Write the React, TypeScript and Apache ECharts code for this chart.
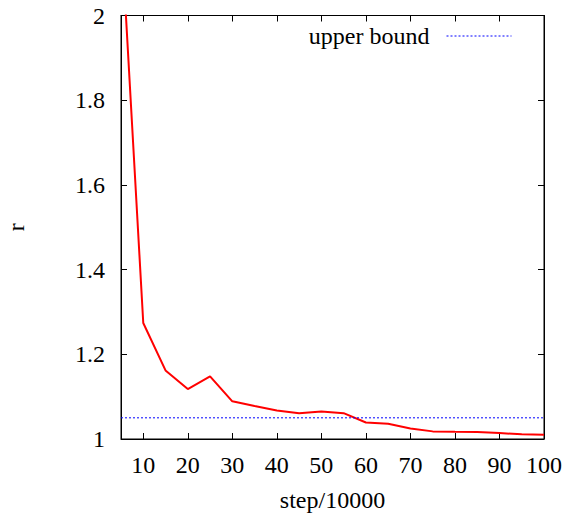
import React, { useEffect, useRef } from "react";
import * as echarts from "echarts";

const steps = [5, 10, 15, 20, 25, 30, 35, 40, 45, 50, 55, 60, 65, 70, 75, 80, 85, 90, 95, 100];
const rValues = [2.206, 1.274, 1.162, 1.118, 1.148, 1.089, 1.078, 1.0675, 1.061, 1.065, 1.061, 1.039, 1.036, 1.025, 1.018, 1.017, 1.0165, 1.014, 1.011, 1.01];
const upperBound = 1.05;
const xTicks = [10, 20, 30, 40, 50, 60, 70, 80, 90, 100];

const FONT = "'Times New Roman', 'Liberation Serif', serif";
const FS = 24;

export default function App() {
  const ref = useRef<HTMLDivElement>(null);
  useEffect(() => {
    if (!ref.current) return;
    const chart = echarts.init(ref.current, null, { renderer: "svg" });
    const axisLine = { show: true, lineStyle: { color: "#000", width: 1 } };
    chart.setOption({
      animation: false,
      backgroundColor: "#fff",
      textStyle: { fontFamily: FONT },
      grid: {
        left: 121,
        right: 27,
        top: 15.5,
        bottom: 75,
        containLabel: false,
        outerBoundsMode: "none",
        show: true,
        borderColor: "#000",
        borderWidth: 1,
        backgroundColor: "transparent",
      },
      legend: {
        data: ["upper bound"],
        right: 54,
        top: 19,
        align: "right",
        itemWidth: 65,
        itemHeight: 4,
        itemGap: 10,
        itemStyle: { color: "transparent", borderWidth: 0, opacity: 0 },
        lineStyle: { color: "#0000ff", width: 1, type: [2, 2] },
        textStyle: { fontFamily: FONT, fontSize: FS, color: "#000", padding: [0, 12, 0, 0] },
        selectedMode: false,
      },
      xAxis: [
        {
          type: "value",
          min: 5,
          max: 100,
          position: "bottom",
          axisLine,
          splitLine: { show: false },
          axisTick: { show: true, inside: true, length: 6, customValues: xTicks, lineStyle: { color: "#000" } },
          axisLabel: { customValues: xTicks, fontFamily: FONT, fontSize: FS, color: "#000", margin: 14 },
          name: "step/10000",
          nameLocation: "middle",
          nameGap: 49,
          nameTextStyle: { fontFamily: FONT, fontSize: FS, color: "#000" },
        },
        {
          type: "value",
          min: 5,
          max: 100,
          position: "top",
          axisLine,
          splitLine: { show: false },
          axisTick: { show: true, inside: true, length: 6, customValues: xTicks, lineStyle: { color: "#000" } },
          axisLabel: { show: false },
        },
      ],
      yAxis: [
        {
          type: "value",
          min: 1,
          max: 2,
          interval: 0.2,
          position: "left",
          axisLine,
          splitLine: { show: false },
          axisTick: { show: true, inside: true, length: 6, lineStyle: { color: "#000" } },
          axisLabel: { fontFamily: FONT, fontSize: FS, color: "#000", margin: 16 },
          name: "r",
          nameLocation: "middle",
          nameGap: 93,
          nameTextStyle: { fontFamily: FONT, fontSize: FS, color: "#000" },
        },
        {
          type: "value",
          min: 1,
          max: 2,
          interval: 0.2,
          position: "right",
          axisLine,
          splitLine: { show: false },
          axisTick: { show: true, inside: true, length: 6, lineStyle: { color: "#000" } },
          axisLabel: { show: false },
        },
      ],
      series: [
        {
          name: "r",
          type: "line",
          data: steps.map((s, i) => [s, rValues[i]]),
          symbol: "none",
          clip: true,
          lineStyle: { color: "#ff0000", width: 2 },
          itemStyle: { color: "#ff0000" },
        },
        {
          name: "upper bound",
          type: "line",
          data: [
            [5, upperBound],
            [100, upperBound],
          ],
          symbol: "none",
          lineStyle: { color: "#0000ff", width: 1, type: [2, 2] },
          itemStyle: { color: "#0000ff" },
        },
      ],
    });
    return () => chart.dispose();
  }, []);
  return <div ref={ref} style={{ position: "fixed", left: 0, top: 0, width: 571, height: 514 }} />;
}
